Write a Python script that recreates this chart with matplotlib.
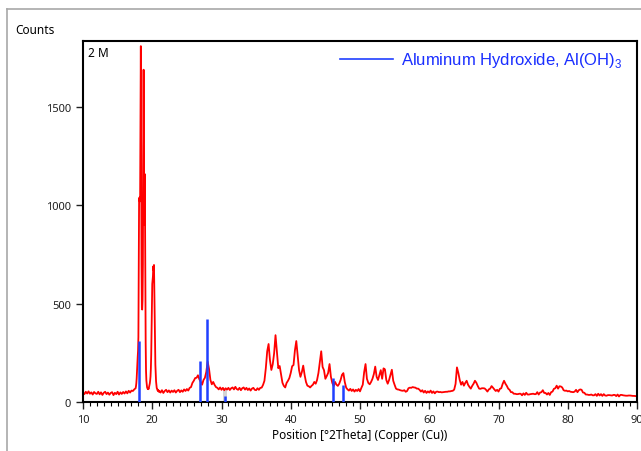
import matplotlib
matplotlib.use("Agg")
import matplotlib.pyplot as plt
from matplotlib.lines import Line2D
from matplotlib.ticker import MultipleLocator
import numpy as np

plt.rcParams['font.family'] = ['Noto Sans', 'DejaVu Sans']
plt.rcParams['mathtext.fontset'] = 'custom'
plt.rcParams['mathtext.rm'] = 'Liberation Sans'

tt_start_a = 10.0   # 0.2 deg step
counts_a = [48, 40, 52, 43, 54, 42, 49, 38, 51, 44,
            41, 52, 39, 49, 36, 47, 52, 40, 48, 37,
            46, 50, 35, 47, 40, 52, 38, 49, 41, 51,
            43, 54, 44, 57, 48, 58, 56, 64]

tt_start_b = 17.6   # 0.05 deg step, main peaks
counts_b = [70, 80, 95, 120, 160, 210, 230, 260, 330, 700,
            1030, 1040, 1020, 1045, 1400, 1810, 1200, 700, 480, 470,
            520, 700, 1300, 1690, 1300, 900, 1160, 1000, 600, 300,
            160, 110, 90, 75, 70, 66, 72, 65, 70, 78,
            85, 95, 110, 130, 170, 240, 350, 480, 600, 620,
            640, 690, 670, 697, 560, 400, 280, 190, 140, 105,
            85, 70, 68, 60, 62, 55, 58, 52]

tt_start_c = 21.0   # 0.2 deg step
counts_c = [57, 48, 60, 46, 56, 62, 50, 59, 48, 58,
            51, 60, 48, 57, 62, 50, 59, 52, 64, 56,
            66, 58, 72, 76, 97, 108, 122, 123, 136, 116,
            102, 88, 112, 123, 152, 205, 168, 112, 90, 102,
            87, 76, 72, 64, 74, 62, 72, 60, 70, 63,
            72, 61, 70, 74, 64, 77, 66, 62, 72, 60,
            70, 74, 63, 72, 61, 69, 58, 68, 72, 62,
            60, 70, 62, 72, 73, 87, 108, 172, 258, 295,
            212, 163, 192, 248, 340, 258, 172, 183, 142, 98,
            82, 74, 97, 108, 122, 148, 182, 188, 262, 310,
            238, 162, 128, 152, 185, 138, 102, 83, 80, 74,
            82, 88, 102, 93, 112, 148, 202, 258, 178, 162,
            118, 132, 148, 193, 128, 97, 81, 102, 88, 82,
            93, 112, 138, 147, 102, 73, 64, 58, 67, 56,
            64, 53, 62, 56, 66, 54, 72, 88, 152, 193,
            118, 97, 90, 102, 118, 142, 180, 128, 112, 138,
            162, 118, 171, 166, 112, 93, 112, 138, 164, 108,
            87, 68, 64, 63, 60, 58, 57, 60, 52, 56,
            70, 73, 72, 76, 74, 73, 68, 68, 62, 53,
            60, 48, 57, 46, 54, 48, 58, 46, 54, 44,
            52, 53, 50, 51, 49, 50, 51, 52, 52, 54,
            54, 56, 57, 63, 92, 176, 148, 112, 88, 102,
            83, 97, 108, 88, 77, 68, 82, 93, 108, 98,
            82, 68, 67, 70, 70, 69, 62, 53, 64, 68,
            81, 73, 64, 56, 62, 53, 67, 70, 92, 108,
            93, 82, 68, 62, 50, 50, 42, 42, 40, 40,
            42, 42, 34, 44, 36, 47, 38, 38, 40, 41,
            42, 40, 40, 50, 38, 48, 50, 60, 46, 46,
            38, 46, 36, 50, 53, 67, 70, 83, 68, 80,
            79, 74, 60, 57, 58, 54, 56, 52, 51, 50,
            53, 62, 50, 60, 64, 62, 48, 47, 38, 38,
            36, 36, 38, 34, 34, 40, 31, 42, 33, 40,
            31, 40, 33, 32, 35, 35, 34, 33, 36, 36,
            30, 38, 28, 36, 36, 34, 33, 32, 32, 33,
            33, 32, 31, 31, 30, 32]

# reference pattern sticks, Al(OH)3
ref_pos = [18.1, 26.85, 27.95, 30.5, 46.15, 47.6]
ref_int = [312, 210, 422, 30, 122, 86]

tt_a = tt_start_a + 0.2 * np.arange(len(counts_a))
tt_b = tt_start_b + 0.05 * np.arange(len(counts_b))
tt_c = tt_start_c + 0.2 * np.arange(len(counts_c))
two_theta = np.concatenate([tt_a, tt_b, tt_c])
counts = np.concatenate([counts_a, counts_b, counts_c])

fig = plt.figure(figsize=(6.41, 4.52), dpi=100)
ax = fig.add_axes([83/641, 49/452, 554/641, 361/452])

# grey frame of the window
fig.add_artist(Line2D([7/641, 1], [1-10/452, 1-10/452], transform=fig.transFigure,
                      color='#a8a8a8', lw=1.2))
fig.add_artist(Line2D([7/641, 7/641], [0, 1-10/452], transform=fig.transFigure,
                      color='#a8a8a8', lw=1.2))

ax.bar(30.5, 60, width=0.5, color='#d4d4d4', zorder=1)
ax.plot(two_theta, counts, color='#ff0000', lw=1.3, zorder=2)
ax.vlines(ref_pos, 0, ref_int, colors='#2040ff', lw=1.8, zorder=3)

ax.set_xlim(10, 90)
ax.set_ylim(0, 1836)
ax.set_xticks(np.arange(10, 91, 10))
ax.xaxis.set_minor_locator(MultipleLocator(1))
ax.set_yticks([0, 500, 1000, 1500])
ax.tick_params(axis='both', which='major', direction='out', length=5, width=1,
               labelsize=8, colors='#202020')
ax.tick_params(axis='x', which='minor', direction='out', length=3, width=0.8)
for s in ax.spines.values():
    s.set_linewidth(1.5)

ax.set_xlabel('Position [°2Theta] (Copper (Cu))', fontsize=8.5, labelpad=2)
fig.text(15/641, 1-30/452, 'Counts', fontsize=8.5, va='center', ha='left')
ax.text(0.009, 0.985, '2 M', transform=ax.transAxes, fontsize=8.5, va='top', ha='left')

ax.plot([0.464, 0.560], [0.950, 0.950], transform=ax.transAxes, color='#2040ff', lw=1.2)
ax.text(0.574, 0.950, r'Aluminum Hydroxide, Al(OH)$_3$', transform=ax.transAxes,
        color='#1a2eff', fontsize=12, family='Liberation Sans', va='center', ha='left')

fig.savefig('out.png', dpi=100)
